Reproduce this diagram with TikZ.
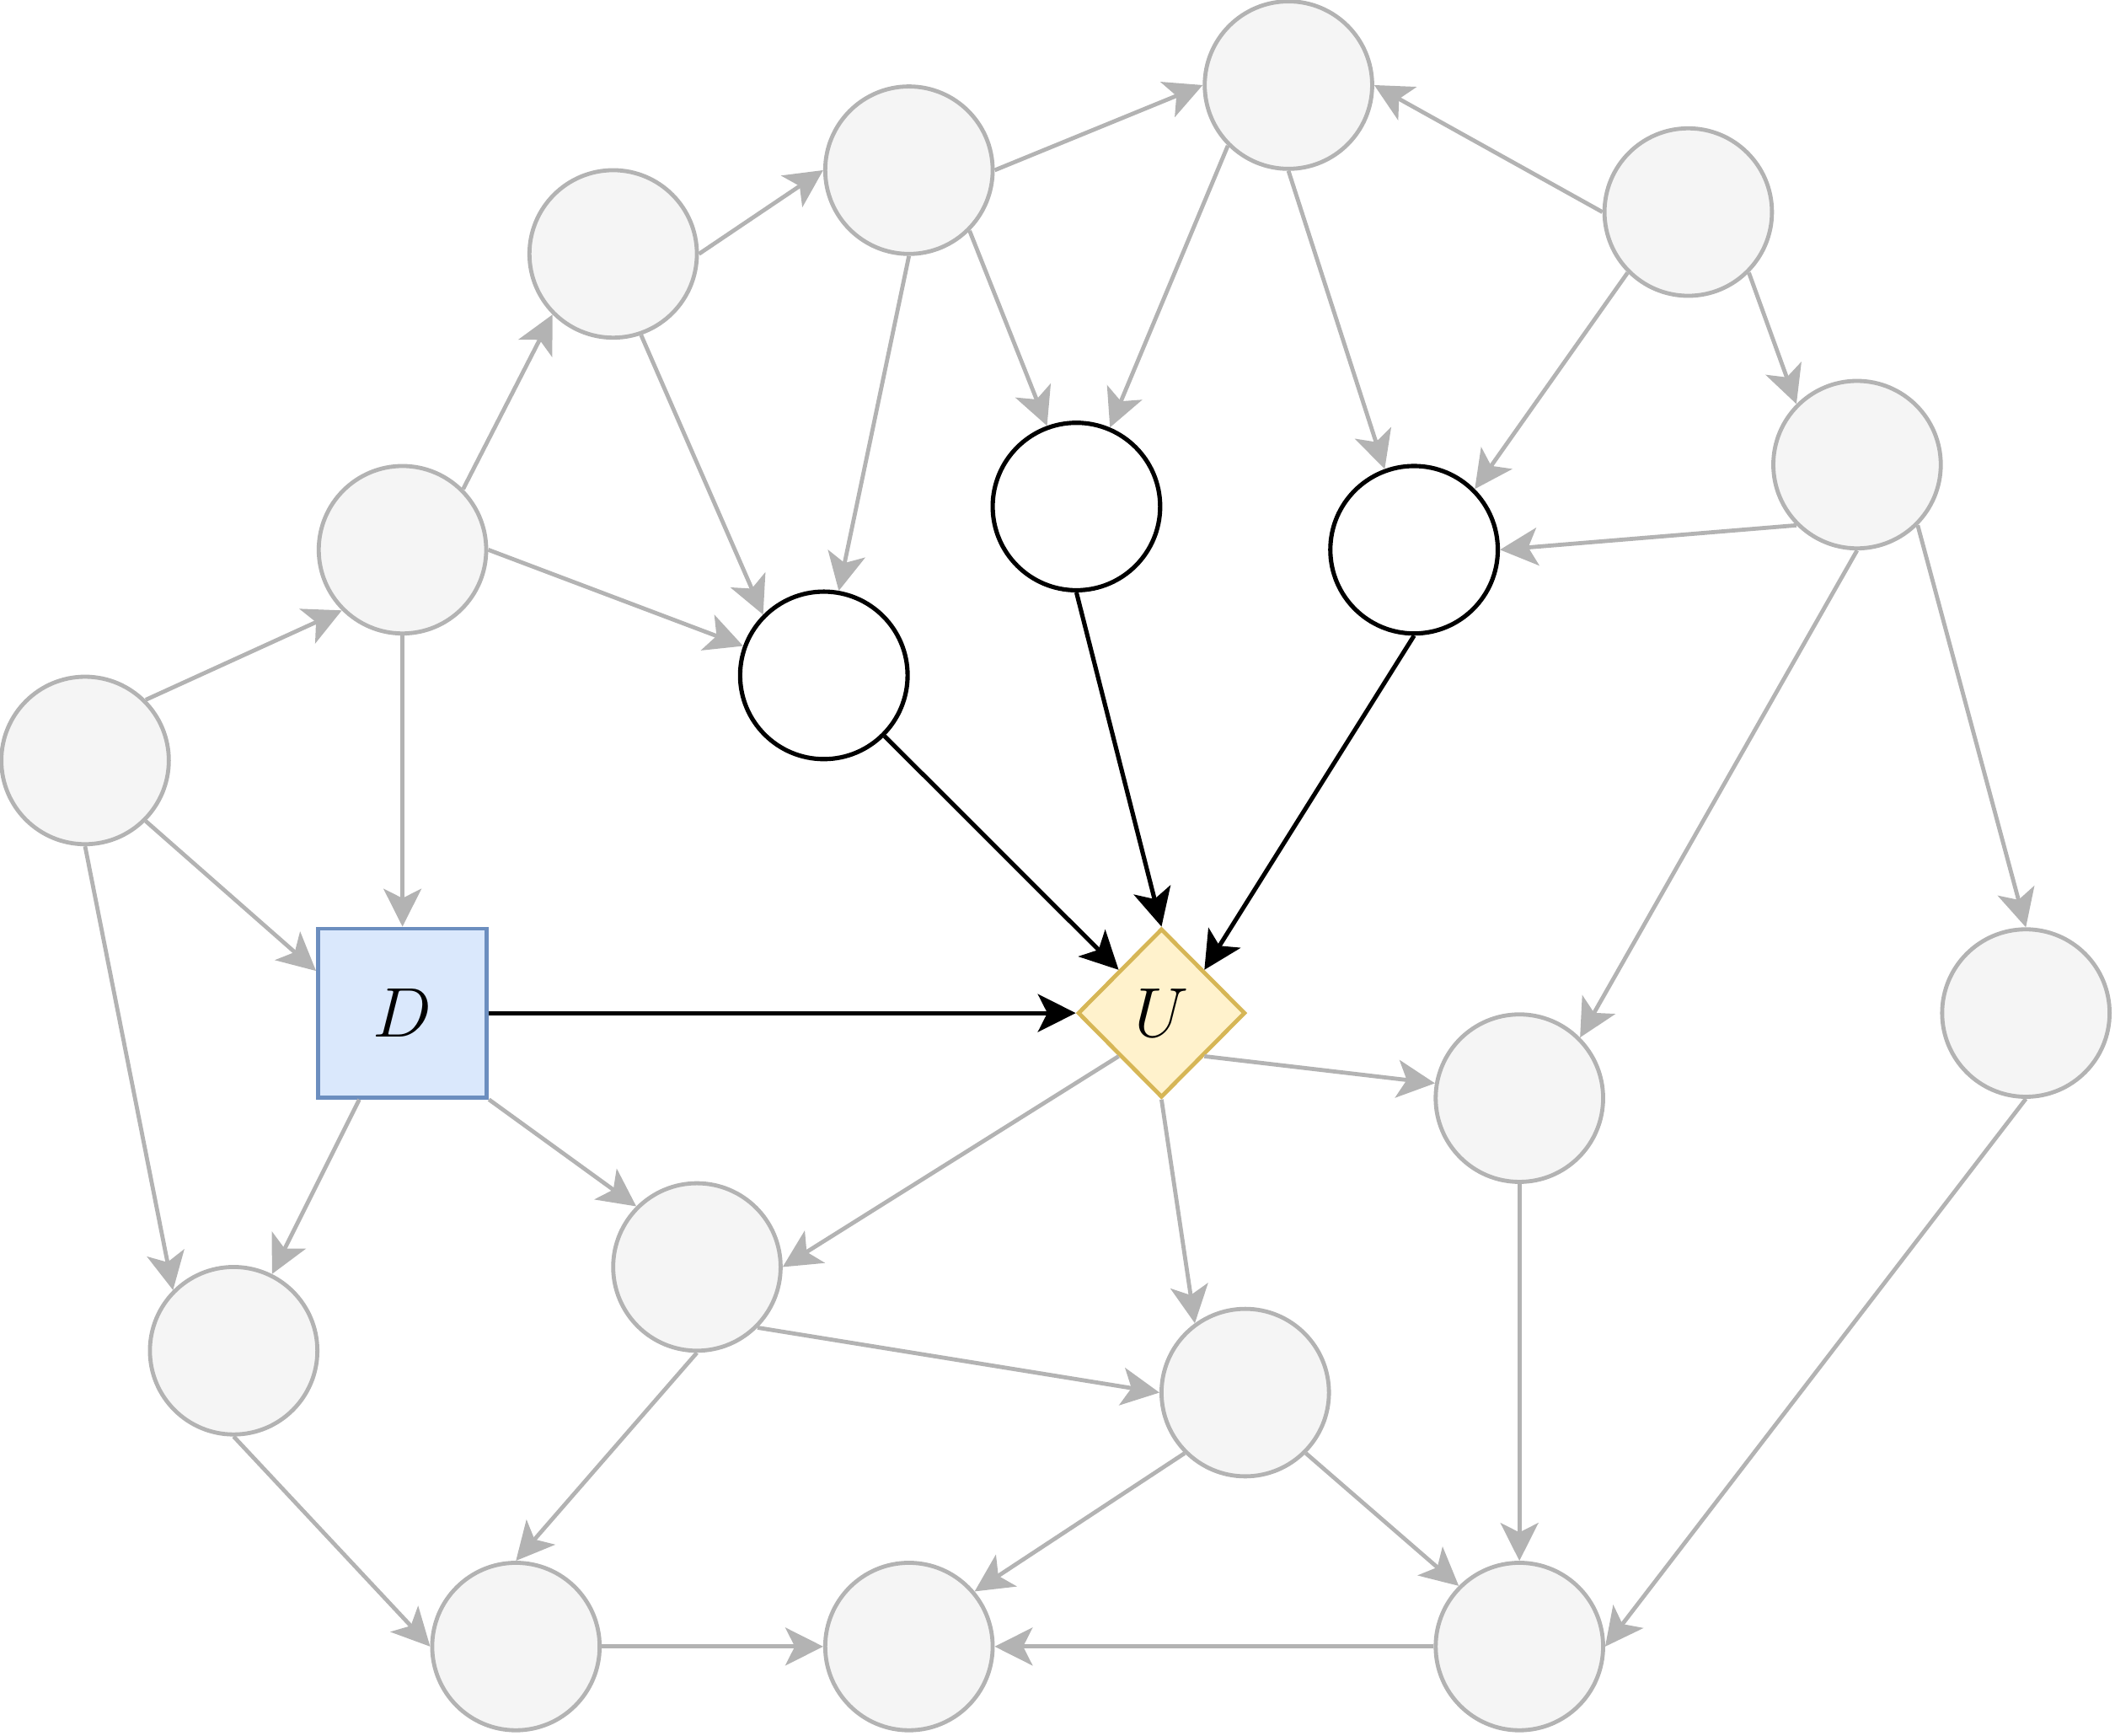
\RequirePackage{fix-cm}
\documentclass[tikz,border=0pt]{standalone}
\usepackage{tikz}
\usetikzlibrary{arrows.meta,shapes.geometric}
\definecolor{nodegrey}{HTML}{F5F5F5}
\definecolor{edgegrey}{HTML}{B3B3B3}
\definecolor{decfill}{HTML}{DAE8FC}
\definecolor{decline}{HTML}{6C8EBF}
\definecolor{utilfill}{HTML}{FFF2CC}
\definecolor{utilline}{HTML}{D6B656}
\begin{document}
\begin{tikzpicture}[x=1pt,y=-1pt,
  chance/.style={circle,draw=edgegrey,fill=nodegrey,line width=3pt,minimum size=124pt,inner sep=0pt},
  obs/.style={circle,draw=black,fill=white,line width=3.2pt,minimum size=124pt,inner sep=0pt},
  decision/.style={rectangle,draw=decline,fill=decfill,line width=3pt,minimum size=125pt,inner sep=0pt,font=\fontsize{52}{60}\selectfont},
  utility/.style={diamond,aspect=1,draw=utilline,fill=utilfill,line width=3pt,minimum width=124pt,minimum height=125pt,inner sep=0pt,font=\fontsize{52}{60}\selectfont},
  greyarrow/.style={draw=edgegrey,line width=3pt,-{Stealth[length=28pt,width=28pt,inset=7pt]}},
  blackarrow/.style={draw=black,line width=3.2pt,-{Stealth[length=28pt,width=28pt,inset=7pt]}}]
  \useasboundingbox (0,0) rectangle (1566,1285);

  \node[chance] (n1) at (63,563) {}; \node[chance] (n2) at (298,407) {}; \node[chance] (n3) at (454,188) {};
  \node[chance] (n4) at (673,126) {}; \node[chance] (n5) at (954,63) {}; \node[chance] (n6) at (1250,157) {};
  \node[chance] (n7) at (1375,344) {}; \node[chance] (n8) at (1500,750) {}; \node[chance] (n9) at (1125,813) {};
  \node[chance] (n10) at (516,938) {}; \node[chance] (n11) at (173,1000) {}; \node[chance] (n12) at (922,1031) {};
  \node[chance] (n13) at (382,1219) {}; \node[chance] (n14) at (673,1219) {}; \node[chance] (n15) at (1125,1219) {};
  \node[obs] (w1) at (610,500) {}; \node[obs] (w2) at (797,375) {}; \node[obs] (w3) at (1047,407) {};
  \node[decision] (D) at (298,750) {$D$};
  \node[utility] (U) at (860,750) {$U$};

  \draw [greyarrow] (n1.45) -- (n2.225); \draw [greyarrow] (n1.-45) -- (D.154); \draw [greyarrow] (n1.south) -- (n11.135);
  \draw [greyarrow] (n2.45) -- (n3.225); \draw [greyarrow] (n2.east) -- (w1.160); \draw [greyarrow] (n2.south) -- (D.north);
  \draw [greyarrow] (n3.east) -- (n4.west); \draw [greyarrow] (n3.-71) -- (w1.135);
  \draw [greyarrow] (n4.east) -- (n5.west); \draw [greyarrow] (n4.south) -- (w1.80); \draw [greyarrow] (n4.-45) -- (w2.110);
  \draw [greyarrow] (n5.225) -- (w2.67); \draw [greyarrow] (n5.south) -- (w3.110);
  \draw [greyarrow] (n6.west) -- (n5.east); \draw [greyarrow] (n6.225) -- (w3.45); \draw [greyarrow] (n6.-45) -- (n7.135);
  \draw [greyarrow] (n7.225) -- (w3.east); \draw [greyarrow] (n7.south) -- (n9.45); \draw [greyarrow] (n7.-45) -- (n8.north);
  \draw [greyarrow] (n8.south) -- (n15.east); \draw [greyarrow] (n9.south) -- (n15.north);
  \draw [greyarrow] (D) -- (n11); \draw [greyarrow] (D.south east) -- (n10.135);
  \draw [greyarrow] (U.south west) -- (n10.east); \draw [greyarrow] (U.south east) -- (n9.170); \draw [greyarrow] (U.south) -- (n12.126);
  \draw [greyarrow] (n10.-45) -- (n12.west); \draw [greyarrow] (n10.south) -- (n13.north);
  \draw [greyarrow] (n11.south) -- (n13.west); \draw [greyarrow] (n13.east) -- (n14.west);
  \draw [greyarrow] (n12.225) -- (n14.40); \draw [greyarrow] (n12.-45) -- (n15.135);
  \draw [greyarrow] (n15.west) -- (n14.east);

  \draw [blackarrow] (D.east) -- (U.west);
  \draw [blackarrow] (w1.-45) -- (U.north west);
  \draw [blackarrow] (w2.south) -- (U.north);
  \draw [blackarrow] (w3.south) -- (U.north east);
\end{tikzpicture}
\end{document}
